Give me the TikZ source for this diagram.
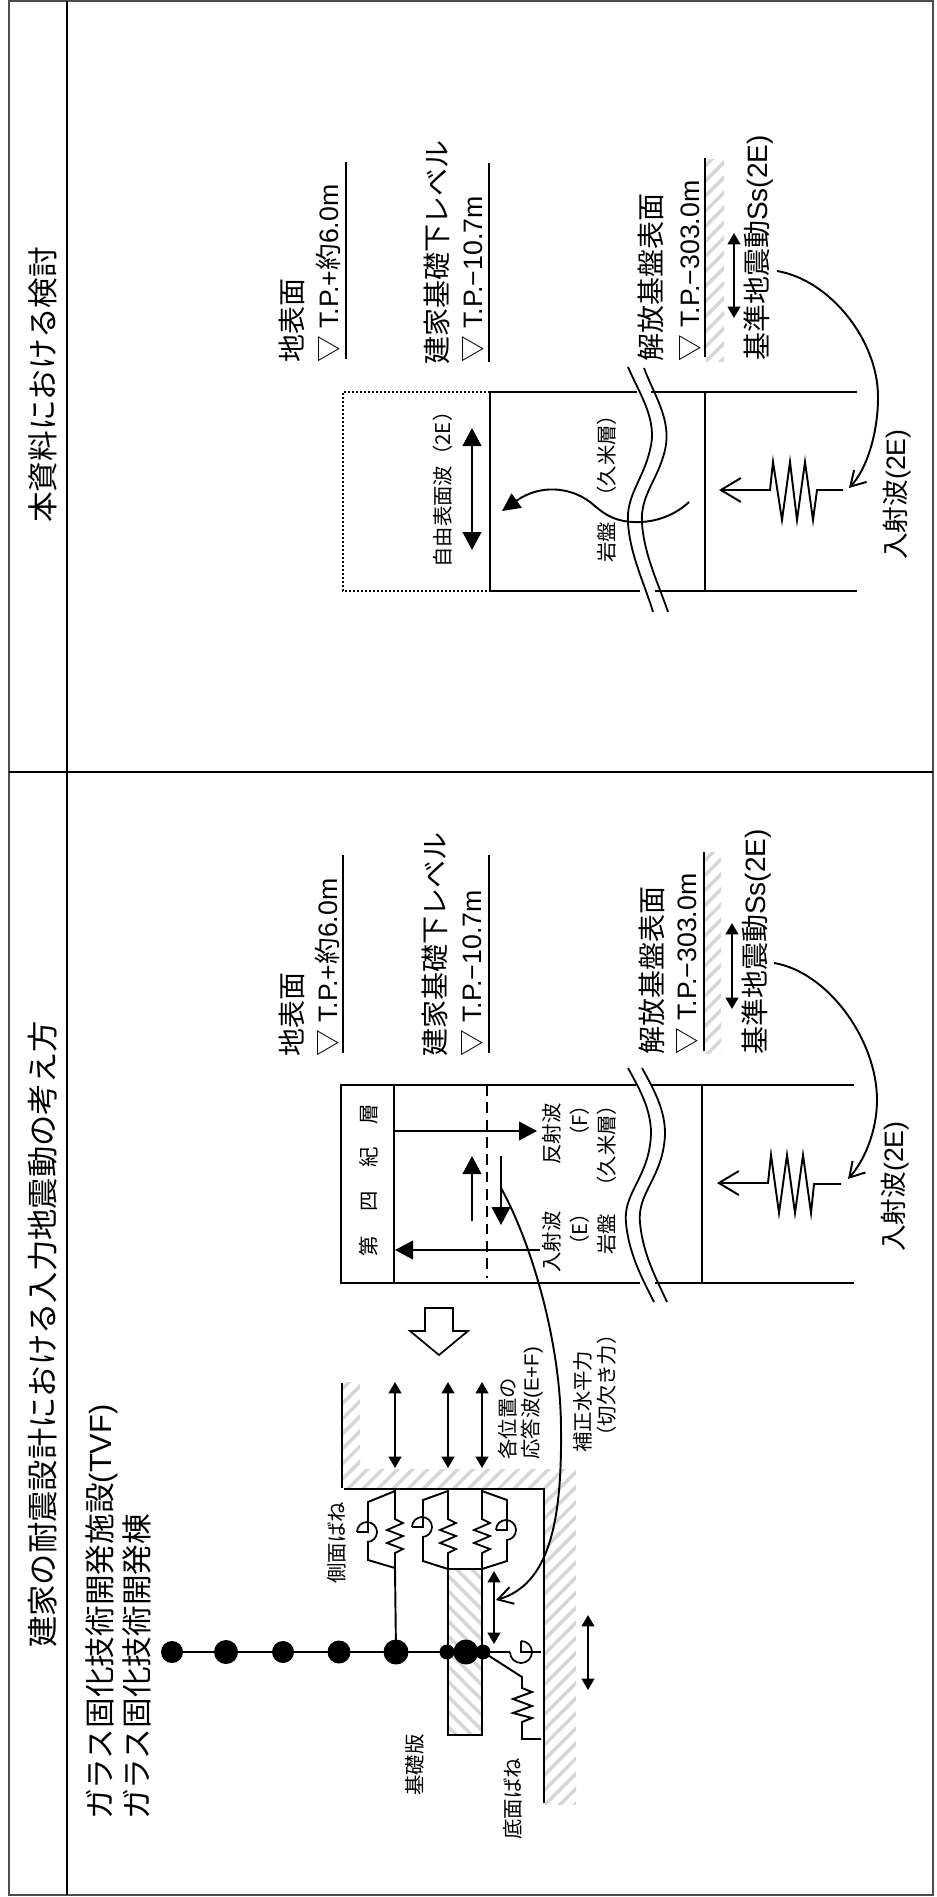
\documentclass[tikz,border=0pt]{standalone}
\usepackage{fontspec}
\setmainfont{Liberation Sans}
\newfontfamily\cjkfont{Noto Sans CJK JP}
\newcommand{\ja}[1]{{\cjkfont #1}}
\usetikzlibrary{arrows.meta,patterns.meta}
\tikzset{
    vtext/.style={rotate=90,anchor=west,inner sep=0pt},
    bigtext/.style={vtext,font=\fontsize{23}{26}\selectfont},
    longtext/.style={vtext,font=\fontsize{23.5}{26}\selectfont},
    midtext/.style={vtext,font=\fontsize{21}{23}\selectfont},
    tptext/.style={vtext,font=\fontsize{20}{23}\selectfont},
    smalltext/.style={vtext,font=\fontsize{15.3}{17}\selectfont},
    line/.style={line width=1.45pt},
    wline/.style={line width=1.35pt},
    bigarrow/.style={line width=1.45pt,-{Triangle[length=13.5pt,width=14pt]}},
    bothbig/.style={line width=1.45pt,{Triangle[length=13.5pt,width=14pt]}-{Triangle[length=13.5pt,width=14pt]}},
    bothsmall/.style={line width=1.45pt,{Triangle[length=8.5pt,width=9.5pt]}-{Triangle[length=8.5pt,width=9.5pt]}},
    openarrow/.style={line width=1.45pt,-{Straight Barb[length=11pt,width=13pt,line width=1.45pt]}},
    springarrow/.style={line width=1.45pt,-{Straight Barb[length=15pt,width=18pt,line width=1.45pt]}},
    hatchup/.style={pattern={Lines[angle=45,distance=8pt,line width=2.6pt]},pattern color=black!16,draw=none},
    hatchdown/.style={pattern={Lines[angle=-45,distance=8pt,line width=2.6pt]},pattern color=black!16,draw=none},
}
\newcommand{\kinkdamper}[2]{%
    \draw [line width=1.3pt] (#1-11,#2) arc [start angle=180,end angle=450,radius=10];
    \draw [line width=1.3pt] (#1-11,#2) -- (#1,#2) -- (#1,#2-10);
}
\begin{document}
\begin{tikzpicture}[x=0.75pt,y=-0.75pt]
    \useasboundingbox (0,0) rectangle (936,1897);
    % frame
    \coordinate (FA) at (9,1);
    \coordinate (FB) at (933,1);
    \coordinate (FC) at (933,1895);
    \coordinate (FD) at (9,1895);
    \draw [line width=1pt,black!70] (FA) -- (FB) -- (FC) -- (FD) -- cycle;
    \draw [line] (67,1) -- (67,1895);
    \draw [line] (9,772) -- (933,772);
    \node [bigtext] (titleup) at (43,523) {\ja{本資料における検討}};
    \node [longtext] (titledown) at (43,1648) {\ja{建家の耐震設計における入力地震動の考え方}};
    \node [bigtext] (plantone) at (102,1820) {\ja{ガラス固化技術開発施設}(TVF)};
    \node [bigtext] (planttwo) at (137,1820) {\ja{ガラス固化技術開発棟}};

    % upper panel
    \node [midtext] (gup) at (292,363) {\ja{地表面}};
    \node [tptext] (gupv) at (328,363) {\ja{▽} T.P.+\ja{約}6.0m};
    \draw [line] (346,162) -- (346,359);
    \node [midtext] (bup) at (437,365) {\ja{建家基礎下レベル}};
    \node [tptext] (bupv) at (473,363) {\ja{▽} T.P.−10.7m};
    \draw [line] (489,163) -- (489,362);
    \node [midtext] (rup) at (651,362) {\ja{解放基盤表面}};
    \node [tptext] (rupv) at (690,362) {\ja{▽} T.P.−303.0m};
    \fill [hatchup] (706,160) rectangle (724,362);
    \draw [line] (705,158) -- (705,357);
    \draw [bothsmall] (734,233) -- (734,318);
    \node [midtext] (sup) at (759,361) {\ja{基準地震動}Ss(2E)};
    \node [tptext] (iup) at (897,560) {\ja{入射波}(2E)};
    \coordinate (UA) at (490,392);
    \coordinate (UB) at (490,591);
    \draw [line width=1.5pt,dash pattern=on 1.5pt off 1.5pt] (UA) -- (343,392) -- (343,591) -- (UB);
    \draw [line width=1.8pt] (UA) -- (UB);
    \draw [line] (UA) -- (637,392);
    \draw [line] (UB) -- (640,591);
    \draw [line] (651,392) -- (857,392);
    \draw [line] (655,591) -- (857,591);
    \draw [line width=1.7pt] (705,392) -- (705,591);
    \draw [bothbig] (472,428) -- (472,550);
    \node [smalltext] (fup) at (443,568) {\ja{自由表面波（2E）}};
    \node [smalltext] (rockup) at (607,563) {\ja{岩盤}};
    \node [smalltext] (kuup) at (607,507) {\ja{（久米層）}};
    \draw [wline] (628,367) .. controls (640,395) and (658,420) .. (650,450) .. controls (643,480) and (626,495) .. (628,523) .. controls (630,555) and (645,585) .. (653,612);
    \draw [wline] (644,368) .. controls (654,395) and (672,420) .. (665,450) .. controls (658,480) and (640,495) .. (642,523) .. controls (644,555) and (659,585) .. (668,612);
    \draw [line,-{Triangle[length=13.5pt,width=13pt]}] (689,502) .. controls (672,518) and (650,523) .. (633,522) .. controls (610,521) and (600,510) .. (590,502) .. controls (570,487) and (540,484) .. (502,511);
    \draw [springarrow] (843,490) -- (817,490) -- (813,520) -- (805,462) -- (797,520) -- (790,462) -- (782,520) -- (773,462) -- (770,490) -- (719,490);
    \draw [openarrow] (777,271) .. controls (830,280) and (878,340) .. (878,397) .. controls (878,435) and (866,470) .. (849,488);

    % lower panel
    \node [midtext] (gdown) at (292,1057) {\ja{地表面}};
    \node [tptext] (gdownv) at (327,1057) {\ja{▽} T.P.+\ja{約}6.0m};
    \draw [line] (343,855) -- (343,1053);
    \node [midtext] (bdown) at (435,1057) {\ja{建家基礎下レベル}};
    \node [tptext] (bdownv) at (472,1057) {\ja{▽} T.P.−10.7m};
    \draw [line] (489,855) -- (489,1053);
    \node [midtext] (rdown) at (652,1055) {\ja{解放基盤表面}};
    \node [tptext] (rdownv) at (687,1055) {\ja{▽} T.P.−303.0m};
    \fill [hatchup] (705,852) rectangle (721,1053);
    \draw [line] (704,852) -- (704,1051);
    \draw [bothsmall] (732,923) -- (732,1009);
    \node [midtext] (sdown) at (757,1055) {\ja{基準地震動}Ss(2E)};
    \node [tptext] (idown) at (895,1252) {\ja{入射波}(2E)};
    \coordinate (LA) at (341,1085);
    \coordinate (LB) at (341,1283);
    \draw [line] (636,1085) -- (LA) -- (LB) -- (640,1283);
    \draw [line] (651,1085) -- (854,1085);
    \draw [line] (655,1283) -- (854,1283);
    \draw [line width=1.9pt] (394,1085) -- (394,1283);
    \draw [line width=1.8pt] (702,1085) -- (702,1283);
    \draw [line,dash pattern=on 8pt off 5pt] (487,1085) -- (487,1278);
    \node [smalltext] (lay1) at (369,1257) {\ja{第}};
    \node [smalltext] (lay2) at (369,1212) {\ja{四}};
    \node [smalltext] (lay3) at (369,1168) {\ja{紀}};
    \node [smalltext] (lay4) at (369,1125) {\ja{層}};
    \draw [bigarrow] (540,1250) -- (395,1250);
    \draw [bigarrow] (394,1131) -- (537,1131);
    \draw [bigarrow] (472,1221) -- (472,1156);
    \draw [bigarrow] (501,1156) -- (501,1225);
    \node [smalltext] (inc) at (552,1273) {\ja{入射波}};
    \node [smalltext] (ref) at (552,1165) {\ja{反射波}};
    \node [smalltext] (ince) at (580,1256) {\ja{（E）}};
    \node [smalltext] (reff) at (580,1147) {\ja{（F）}};
    \node [smalltext] (rockdown) at (607,1255) {\ja{岩盤}};
    \node [smalltext] (kudown) at (607,1197) {\ja{（久米層）}};
    \draw [wline] (628,1068) .. controls (640,1090) and (655,1115) .. (650,1145) .. controls (645,1180) and (623,1195) .. (626,1223) .. controls (629,1255) and (643,1280) .. (654,1302);
    \draw [wline] (642,1068) .. controls (654,1090) and (669,1115) .. (664,1145) .. controls (659,1180) and (637,1195) .. (640,1223) .. controls (643,1255) and (657,1280) .. (667,1302);
    \draw [springarrow] (841,1184) -- (814,1184) -- (811,1213) -- (803,1155) -- (795,1213) -- (787,1155) -- (779,1213) -- (771,1155) -- (768,1183) -- (717,1183);
    \draw [openarrow] (774,963) .. controls (828,972) and (877,1040) .. (877,1100) .. controls (877,1130) and (865,1160) .. (848,1179);
    % block arrow
    \draw [line width=1.3pt] (425,1308) -- (453,1308) -- (453,1331) -- (468,1331) -- (439,1355) -- (410,1331) -- (425,1331) -- cycle;

    % building model
    \fill [hatchup] (342,1382) rectangle (360,1469);
    \fill [hatchup] (342,1469) rectangle (576,1489);
    \fill [hatchup] (545,1489) rectangle (576,1804);
    \fill [hatchdown] (448,1569) rectangle (482,1735);
    \draw [line] (342,1383) -- (342,1488);
    \draw [line] (344,1489) -- (544,1489) -- (544,1803);
    \draw [bothsmall] (395,1382) -- (395,1468);
    \draw [bothsmall] (448,1382) -- (448,1468);
    \draw [bothsmall] (482,1382) -- (482,1468);
    \node [smalltext] (resp1) at (508,1460) {\ja{各位置の}};
    \node [smalltext] (resp2) at (532,1460) {\ja{応答波}(E+F)};
    \node [smalltext] (corr1) at (583,1453) {\ja{補正水平力}};
    \node [smalltext] (corr2) at (607,1447) {\ja{（切欠き力）}};
    % lumped mass line
    \coordinate (M1) at (172,1652);
    \coordinate (M2) at (226,1652);
    \coordinate (M3) at (283,1652);
    \coordinate (M4) at (339,1652);
    \coordinate (M5) at (396,1652);
    \coordinate (M6) at (447,1652);
    \coordinate (M7) at (466,1652);
    \coordinate (M8) at (483,1652);
    \draw [line] (M1) -- (M8);
    \foreach \mx/\mr in {172/11,226/12,283/11,339/11.5,396/12.5,447/7.5,466/12.5,483/7.5}
        \fill [black] (\mx,1652) ellipse [x radius=\mr,y radius=\mr];
    % side springs
    \foreach \sx/\sa in {395/8,448/8,482/8} {
        \draw [line width=1.35pt] (\sx,1489) -- (\sx,1519) -- (\sx+\sa,1523) -- (\sx-\sa,1530) -- (\sx+\sa,1536) -- (\sx-\sa,1543) -- (\sx+\sa,1549) -- (\sx,1553) -- (\sx,1569);
    }
    \draw [line] (395,1569) -- (M5);
    \draw [line] (395,1491) -- (368,1502) -- (368,1522);
    \kinkdamper{368}{1532}
    \draw [line] (368,1542) -- (368,1560) -- (395,1568);
    \draw [line] (448,1491) -- (423,1500) -- (423,1517);
    \kinkdamper{423}{1527}
    \draw [line] (423,1537) -- (423,1561) -- (448,1569);
    \draw [line] (482,1491) -- (507,1500) -- (507,1520);
    \kinkdamper{507}{1530}
    \draw [line] (507,1540) -- (507,1561) -- (482,1569);
    % basemat
    \draw [line] (448,1569) -- (482,1569);
    \draw [line] (448,1569) -- (448,1735) -- (482,1735) -- (482,1569);
    \node [smalltext] (side) at (337,1584) {\ja{側面ばね}};
    \node [smalltext] (mat) at (415,1796) {\ja{基礎版}};
    \node [smalltext] (base) at (513,1840) {\ja{底面ばね}};
    \draw [bothsmall] (494,1571) -- (494,1644);
    % base springs
    \draw [line] (M8) -- (510,1652);
    \draw [line width=1.3pt] (510,1652) arc [start angle=180,end angle=-90,radius=11];
    \draw [line width=1.3pt] (521,1641) -- (521,1652) -- (532,1652);
    \draw [line] (532,1652) -- (541,1652);
    \draw [line] (M8) -- (522,1677) -- (522,1688) -- (532,1692) -- (513,1699) -- (532,1706) -- (513,1713) -- (532,1718) -- (522,1722) -- (522,1739) -- (541,1739);
    \draw [bothsmall] (588,1615) -- (588,1690);
    % correction force curve
    \draw [openarrow] (501,1188) .. controls (530,1240) and (561,1340) .. (561,1430) .. controls (562,1525) and (548,1585) .. (496,1600);
\end{tikzpicture}
\end{document}
